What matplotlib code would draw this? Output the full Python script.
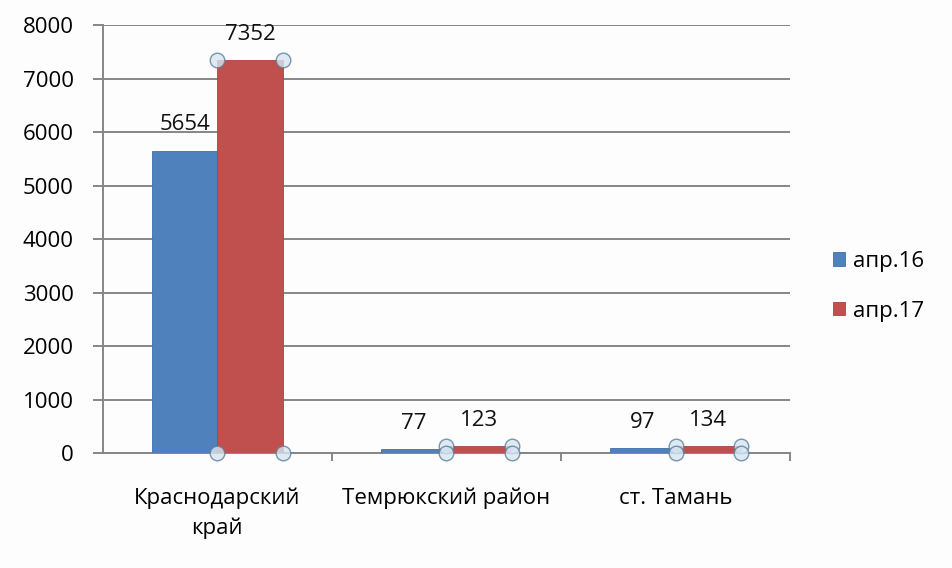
import matplotlib.pyplot as plt
import numpy as np

categories = ['Краснодарский\nкрай', 'Темрюкский район', 'ст. Тамань']
series_names = ['апр.16', 'апр.17']
apr16 = [5654, 77, 97]
apr17 = [7352, 123, 134]
yticks = [0, 1000, 2000, 3000, 4000, 5000, 6000, 7000, 8000]

plt.rcParams['font.family'] = ['Open Sans', 'DejaVu Sans']
fs = 16

fig = plt.figure(figsize=(9.52, 5.68), dpi=100)
fig.patch.set_facecolor('#fdfdfd')
ax = fig.add_axes([0.108, 0.2025, 0.722, 0.753])
ax.set_facecolor('#fdfdfd')

x = np.arange(len(categories))
w = 0.285
grid_c = '#868686'

b1 = ax.bar(x - w / 2, apr16, w, color='#4F81BD', edgecolor='#3f6fa8', linewidth=0.6,
            label=series_names[0], zorder=3)
b2 = ax.bar(x + w / 2, apr17, w, color='#C0504D', edgecolor='#a94441', linewidth=0.6,
            label=series_names[1], zorder=3)

for bars in (b1, b2):
    ax.bar_label(bars, padding=11, fontsize=fs, color='#111111')

# selection handles on the red series
hx, hy = [], []
for xi, v in zip(x, apr17):
    for cx in (xi, xi + w):
        hx += [cx, cx]
        hy += [v, 0]
ax.scatter(hx, hy, s=110, facecolor='#d6e6f2', edgecolor='#5b7d99', linewidth=1.0,
           alpha=0.8, zorder=5, clip_on=False)

ax.set_xlim(-0.5, 2.5)
ax.set_ylim(0, 8000)
ax.set_yticks(yticks)
ax.yaxis.grid(True, color=grid_c, linewidth=1.4)
ax.set_axisbelow(True)

ax.set_xticks(x)
ax.set_xticklabels(categories, fontsize=fs, linespacing=1.5)
ax.set_xticks([0.5, 1.5, 2.5], minor=True)
ax.tick_params(axis='x', which='major', length=0, pad=25)
ax.tick_params(axis='x', which='minor', length=6, color=grid_c, width=1.4)
ax.tick_params(axis='y', length=7, color=grid_c, width=1.4, labelsize=fs, pad=14)

for s in ('top', 'right'):
    ax.spines[s].set_visible(False)
for s in ('left', 'bottom'):
    ax.spines[s].set_color(grid_c)
    ax.spines[s].set_linewidth(1.4)

ax.legend(loc='center left', bbox_to_anchor=(1.0626, 0.39), frameon=False, fontsize=fs,
          handlelength=0.55, handleheight=0.55, handletextpad=0.35, labelspacing=1.3,
          borderaxespad=0, borderpad=0)

fig.savefig('out.png', dpi=100, facecolor=fig.get_facecolor())
